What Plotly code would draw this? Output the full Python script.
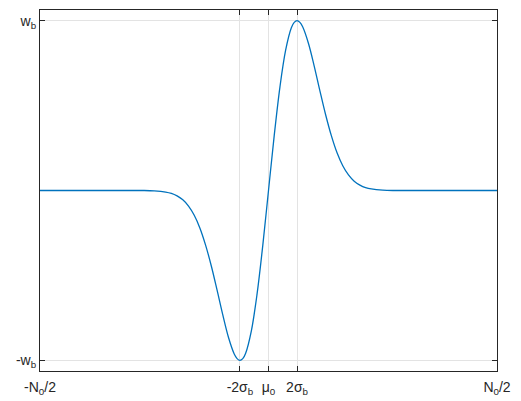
import plotly.graph_objects as go

# curve samples (x in units of N0/2, y in units of w_b)
x_vals = [-1.0, -0.8, -0.6, -0.55, -0.5, -0.45, -0.425, -0.4, -0.375, -0.35, -0.325, -0.3,
          -0.275, -0.25, -0.225, -0.2, -0.175, -0.15, -0.1375, -0.125, -0.1125, -0.1, -0.075,
          -0.05, -0.025, 0.0, 0.025, 0.05, 0.075, 0.1, 0.1125, 0.125, 0.1375, 0.15, 0.175,
          0.2, 0.225, 0.25, 0.275, 0.3, 0.325, 0.35, 0.375, 0.4, 0.425, 0.45, 0.5, 0.55,
          0.6, 0.8, 1.0]
y_vals = [0.0, 0.0, 0.0, 0.0, -0.002, -0.009, -0.017, -0.032, -0.055, -0.092, -0.146, -0.222,
          -0.323, -0.446, -0.587, -0.733, -0.866, -0.963, -0.990, -1.0, -0.990, -0.958, -0.826,
          -0.609, -0.323, 0.0, 0.323, 0.609, 0.826, 0.958, 0.990, 1.0, 0.990, 0.963, 0.866,
          0.733, 0.587, 0.446, 0.323, 0.222, 0.146, 0.092, 0.055, 0.032, 0.017, 0.009, 0.002, 0.0,
          0.0, 0.0, 0.0]

x_tickvals = [-1.0, -0.125, 0.0, 0.125, 1.0]
x_ticktext = ["-N<sub>0</sub>/2", "-2σ<sub>b</sub>", "μ<sub>0</sub>", "2σ<sub>b</sub>", "N<sub>0</sub>/2"]
y_tickvals = [-1.0, 1.0]
y_ticktext = ["-w<sub>b</sub>", "w<sub>b</sub>"]

fig = go.Figure()
fig.add_trace(go.Scatter(x=x_vals, y=y_vals, mode="lines",
                         line=dict(color="#0072BD", width=1.3, shape="spline", smoothing=1.0),
                         hoverinfo="skip", showlegend=False))

axis_common = dict(showline=True, linecolor="#262626", linewidth=1, mirror="ticks",
                   ticks="inside", ticklen=5, tickcolor="#262626", tickwidth=1,
                   showgrid=True, gridcolor="#e3e3e3", gridwidth=1, zeroline=False,
                   automargin=False,
                   tickfont=dict(family="Liberation Sans, Arial, sans-serif", size=14, color="#262626"))

fig.update_xaxes(range=[-1.0, 1.0], tickvals=x_tickvals, ticktext=x_ticktext,
                 ticklabelstandoff=3, **axis_common)
fig.update_yaxes(range=[-1.063, 1.063], tickvals=y_tickvals, ticktext=y_ticktext, **axis_common)

fig.update_layout(width=521, height=401, margin=dict(l=40, r=24, t=10, b=30),
                  paper_bgcolor="white", plot_bgcolor="white")

fig.write_html("out.html")
